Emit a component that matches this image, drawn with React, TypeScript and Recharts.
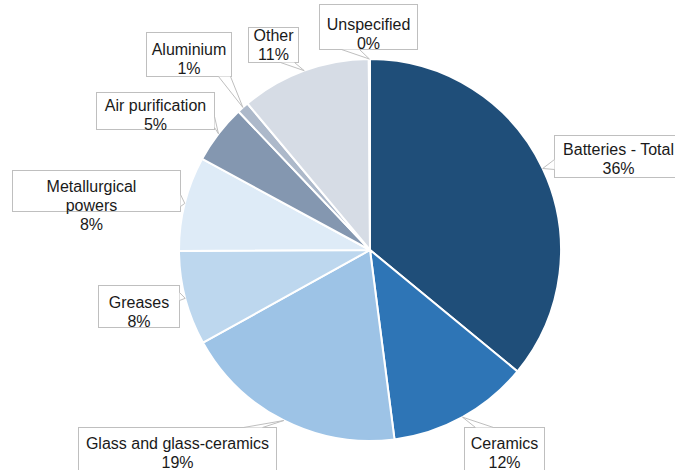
import { PieChart, Pie, Cell } from "recharts";

const CATEGORIES = [
  "Batteries - Total",
  "Ceramics",
  "Glass and glass-ceramics",
  "Greases",
  "Metallurgical powers",
  "Air purification",
  "Aluminium",
  "Other",
  "Unspecified",
];
const SHARES = [36, 12, 19, 8, 8, 5, 1, 11, 0.1];

const COLORS = [
  "#1F4E79",
  "#2E75B6",
  "#9DC3E6",
  "#BDD7EE",
  "#DEEBF7",
  "#8497B0",
  "#ADB9CA",
  "#D6DCE5",
  "#C9C9C9",
];

// callout box relative to the slice's anchor point on the rim
interface Callout {
  dx: number;
  dy: number;
  w: number;
  h: number;
  base: [number, number][];
  ty: number;
  tx?: number;
  lines?: string[];
}

const CALLOUTS: Callout[] = [
  { dx: 11, dy: -33, w: 128, h: 42, base: [[0, 24], [0, 34]], ty: 19 },
  { dx: 2, dy: 10, w: 80, h: 50, base: [[11, 0], [29, 0]], ty: 21 },
  { dx: -206, dy: 7, w: 198, h: 50, base: [[165, 0], [184, 0]], ty: 21 },
  { dx: -87, dy: -13, w: 81, h: 42, base: [[81, 7], [81, 15]], ty: 22 },
  { dx: -173, dy: -33, w: 168, h: 41, base: [[168, 24], [168, 36]], ty: 21, tx: -5, lines: ["Metallurgical", "powers"] },
  { dx: -122, dy: -42, w: 118, h: 37, base: [[118, 24], [118, 35]], ty: 18 },
  { dx: -97, dy: -75, w: 85, h: 44, base: [[72, 44], [84, 44]], ty: 22 },
  { dx: -56, dy: -44, w: 50, h: 35, base: [[32, 35], [46, 35]], ty: 13 },
  { dx: -50, dy: -55, w: 98, h: 45, base: [[22, 45], [40, 45]], ty: 25 },
];

const data = CATEGORIES.map((name, i) => ({ name, value: SHARES[i] }));
const RADIAN = Math.PI / 180;

function renderCallout(props: any) {
  const { cx, cy, midAngle, outerRadius, percent, index } = props;
  const c = CALLOUTS[index];
  const ax = cx + outerRadius * Math.cos(-midAngle * RADIAN);
  const ay = cy + outerRadius * Math.sin(-midAngle * RADIAN);
  const left = Math.round(ax + c.dx) + 0.5;
  const top = Math.round(ay + c.dy) + 0.5;
  const b1 = [left + c.base[0][0], top + c.base[0][1]];
  const b2 = [left + c.base[1][0], top + c.base[1][1]];
  const lines = [...(c.lines ?? [CATEGORIES[index]]), `${Math.round(percent * 100)}%`];
  const tx = left + c.w / 2 + (c.tx ?? 0);
  return (
    <g key={`callout-${index}`}>
      <rect x={left} y={top} width={c.w} height={c.h} fill="#fff" stroke="#BFBFBF" strokeWidth={1} />
      <polygon points={`${b1[0]},${b1[1]} ${ax},${ay} ${b2[0]},${b2[1]}`} fill="#fff" stroke="none" />
      <polyline points={`${b1[0]},${b1[1]} ${ax},${ay} ${b2[0]},${b2[1]}`} fill="none" stroke="#BFBFBF" strokeWidth={1} />
      {lines.map((t, i) => (
        <text
          key={i}
          x={tx}
          y={top + c.ty + i * 19}
          textAnchor="middle"
          fontSize={16}
          fontFamily="'Liberation Sans', Arial, sans-serif"
          fill="#1a1a1a"
        >
          {t}
        </text>
      ))}
    </g>
  );
}

export default function App() {
  return (
    <div style={{ position: "absolute", left: 0, top: 0, width: 675, height: 470, background: "#fff" }}>
      <PieChart width={675} height={470} margin={{ top: 0, right: 0, bottom: 0, left: 0 }}>
        <Pie
          data={data}
          dataKey="value"
          nameKey="name"
          cx={370}
          cy={250}
          outerRadius={191}
          startAngle={90}
          endAngle={-270}
          stroke="#fff"
          strokeWidth={2}
          label={renderCallout}
          labelLine={false}
          isAnimationActive={false}
        >
          {data.map((d, i) => (
            <Cell key={d.name} fill={COLORS[i]} />
          ))}
        </Pie>
      </PieChart>
    </div>
  );
}
